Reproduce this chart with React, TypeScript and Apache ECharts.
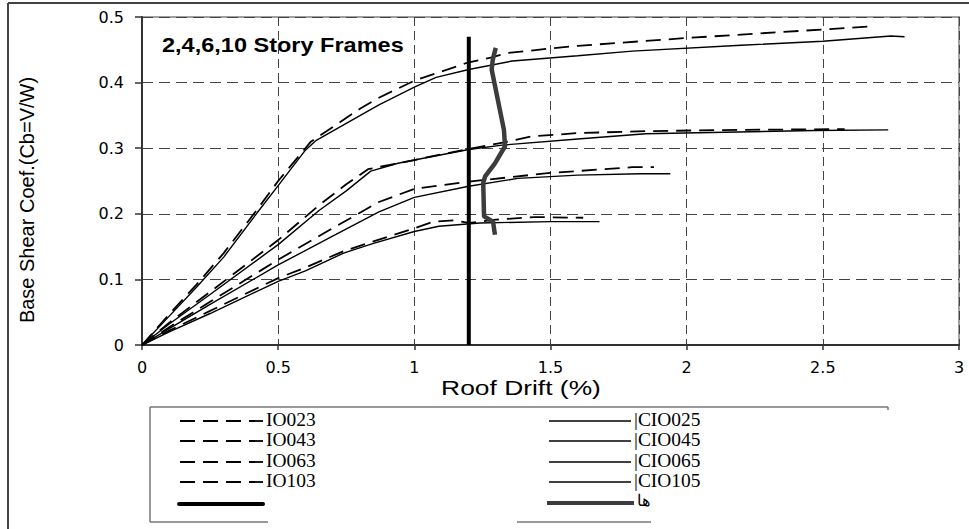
import React, { useEffect, useRef } from "react";
import * as echarts from "echarts";

const xTicks = [0, 0.5, 1, 1.5, 2, 2.5, 3];
const yTicks = [0, 0.1, 0.2, 0.3, 0.4, 0.5];

const io023 = [[0,0],[0.1,0.047],[0.2,0.092],[0.3,0.14],[0.42,0.205],[0.5,0.25],[0.62,0.31],[0.8,0.36],[0.87,0.377],[1.0,0.403],[1.2,0.431],[1.28,0.438],[1.34,0.445],[1.5,0.452],[1.6,0.456],[2.0,0.468],[2.5,0.481],[2.69,0.486]];
const io043 = [[0,0],[0.1,0.034],[0.25,0.081],[0.5,0.16],[0.65,0.213],[0.75,0.245],[0.83,0.268],[1.0,0.282],[1.2,0.299],[1.33,0.309],[1.43,0.318],[1.6,0.323],[1.85,0.326],[2.2,0.328],[2.58,0.329]];
const io063 = [[0,0],[0.1,0.027],[0.25,0.066],[0.5,0.13],[0.7,0.178],[0.87,0.218],[1.0,0.238],[1.2,0.249],[1.49,0.262],[1.8,0.271],[1.88,0.271]];
const io103 = [[0,0],[0.1,0.022],[0.25,0.052],[0.5,0.102],[0.6,0.118],[0.74,0.143],[0.85,0.158],[1.0,0.178],[1.07,0.188],[1.15,0.19],[1.2,0.186],[1.3,0.191],[1.44,0.195],[1.62,0.194]];

const cio025 = [[0,0],[0.1,0.044],[0.2,0.088],[0.3,0.134],[0.42,0.2],[0.5,0.243],[0.6,0.297],[0.64,0.312],[0.75,0.338],[0.87,0.366],[1.0,0.393],[1.08,0.408],[1.2,0.42],[1.36,0.433],[1.6,0.441],[1.8,0.448],[2.2,0.457],[2.5,0.463],[2.75,0.471],[2.8,0.47]];
const cio045 = [[0,0],[0.1,0.032],[0.25,0.077],[0.5,0.153],[0.65,0.205],[0.75,0.235],[0.84,0.265],[0.94,0.277],[1.0,0.282],[1.2,0.298],[1.33,0.305],[1.6,0.314],[1.85,0.322],[2.47,0.327],[2.74,0.328]];
const cio065 = [[0,0],[0.1,0.025],[0.25,0.062],[0.5,0.122],[0.7,0.166],[0.87,0.203],[1.0,0.225],[1.2,0.242],[1.38,0.254],[1.6,0.259],[1.83,0.261],[1.94,0.261]];
const cio105 = [[0,0],[0.1,0.02],[0.25,0.048],[0.5,0.097],[0.6,0.113],[0.74,0.14],[0.85,0.155],[1.0,0.173],[1.09,0.181],[1.24,0.186],[1.5,0.188],[1.68,0.188]];

const limitLine = [[1.2,0],[1.2,0.47]];
const greyLine = [[1.299,0.453],[1.288,0.435],[1.284,0.42],[1.329,0.328],[1.333,0.303],[1.296,0.277],[1.26,0.257],[1.253,0.247],[1.256,0.196],[1.289,0.188],[1.296,0.168]];

const dashedNames = ["IO023", "IO043", "IO063", "IO103"];
const solidNames = ["|CIO025", "|CIO045", "|CIO065", "|CIO105"];
const greyName = "ها";
const titleText = "2,4,6,10 Story Frames";
const xAxisTitle = "Roof Drift (%)";
const yAxisTitle = "Base Shear Coef.(Cb=V/W)";

const SANS = '"Liberation Sans", Arial, sans-serif';
const SERIF = '"Liberation Serif", "Times New Roman", serif';
const DASH = [15, 8];

export default function App() {
  const ref = useRef<HTMLDivElement>(null);
  useEffect(() => {
    if (!ref.current) return;
    const chart = echarts.init(ref.current, null, { renderer: "svg" });
    const dashedData = [io023, io043, io063, io103];
    const solidData = [cio025, cio045, cio065, cio105];
    const series: any[] = [];
    dashedData.forEach((d, i) => {
      series.push({
        name: dashedNames[i], type: "line", data: d, showSymbol: false, symbol: "none",
        lineStyle: { color: "#000", width: 1.8, type: DASH }, z: 3,
      });
    });
    solidData.forEach((d, i) => {
      series.push({
        name: solidNames[i], type: "line", data: d, showSymbol: false, symbol: "none",
        lineStyle: { color: "#000", width: 1.4, type: "solid" }, z: 3,
      });
    });
    series.push({
      name: " ", type: "line", data: limitLine, showSymbol: false, symbol: "none",
      lineStyle: { color: "#000", width: 4 }, z: 4,
    });
    series.push({
      name: greyName, type: "line", data: greyLine, showSymbol: false, symbol: "none",
      lineStyle: { color: "#3c3c3c", width: 4.5 }, z: 5,
    });

    const rows = [421, 441, 462, 482];
    const graphic: any[] = [
      { type: "line", shape: { x1: 8, y1: 3, x2: 969, y2: 3 }, style: { stroke: "#444", lineWidth: 2 } },
      { type: "line", shape: { x1: 8, y1: 3, x2: 8, y2: 529 }, style: { stroke: "#444", lineWidth: 2 } },
      { type: "text", x: 162, y: 45, scaleX: 1.12, style: { text: titleText, font: `bold 21px ${SANS}`, fill: "#000", verticalAlign: "middle", align: "left" } },
      { type: "text", x: 521, y: 388, scaleX: 1.32, style: { text: xAxisTitle, font: `20px ${SANS}`, fill: "#000", verticalAlign: "middle", align: "center" } },
      { type: "text", x: 27, y: 200, rotation: Math.PI / 2, style: { text: yAxisTitle, font: `20px ${SANS}`, fill: "#000", verticalAlign: "middle", align: "center" } },
      // legend frame
      { type: "line", shape: { x1: 150, y1: 407, x2: 888, y2: 407 }, style: { stroke: "#777", lineWidth: 1.5 } },
      { type: "line", shape: { x1: 888, y1: 407, x2: 888, y2: 410 }, style: { stroke: "#777", lineWidth: 1.5 } },
      { type: "line", shape: { x1: 150, y1: 407, x2: 150, y2: 522 }, style: { stroke: "#777", lineWidth: 1.5 } },
      { type: "line", shape: { x1: 150, y1: 522, x2: 268, y2: 522 }, style: { stroke: "#777", lineWidth: 1.5 } },
      { type: "line", shape: { x1: 517, y1: 522, x2: 651, y2: 522 }, style: { stroke: "#777", lineWidth: 1.5 } },
    ];
    rows.forEach((y, i) => {
      graphic.push({ type: "line", shape: { x1: 180, y1: y, x2: 263, y2: y }, style: { stroke: "#000", lineWidth: 1.8, lineDash: DASH } });
      graphic.push({ type: "text", x: 266, y: y - 1, scaleX: 1.08, style: { text: dashedNames[i], font: `18px ${SERIF}`, fill: "#000", verticalAlign: "middle", align: "left" } });
      graphic.push({ type: "line", shape: { x1: 549, y1: y, x2: 631, y2: y }, style: { stroke: "#000", lineWidth: 1.4 } });
      graphic.push({ type: "text", x: 634, y: y - 1, scaleX: 1.08, style: { text: solidNames[i], font: `18px ${SERIF}`, fill: "#000", verticalAlign: "middle", align: "left" } });
    });
    graphic.push({ type: "line", shape: { x1: 179, y1: 504, x2: 263, y2: 504 }, style: { stroke: "#000", lineWidth: 4, lineCap: "round" } });
    graphic.push({ type: "line", shape: { x1: 547, y1: 503, x2: 634, y2: 503 }, style: { stroke: "#3c3c3c", lineWidth: 4 } });
    graphic.push({ type: "text", x: 637, y: 500, style: { text: greyName, font: `16px ${SERIF}`, fill: "#000", verticalAlign: "middle", align: "left" } });

    chart.setOption({
      animation: false,
      backgroundColor: "#fff",
      grid: { left: 142, right: 10, top: 17, bottom: 184, show: true, borderColor: "#a0a0a0", borderWidth: 2, backgroundColor: "transparent" },
      xAxis: {
        type: "value", min: xTicks[0], max: xTicks[xTicks.length - 1], interval: 0.5,
        axisLine: { show: true, onZero: false, lineStyle: { color: "#333", width: 2 } },
        axisTick: { show: true, length: 5, lineStyle: { color: "#333", width: 1.5 } },
        axisLabel: { color: "#000", fontFamily: '"DejaVu Sans", sans-serif', fontSize: 16, margin: 14 },
        splitLine: { show: true, lineStyle: { color: "#444", width: 1, type: [9, 5] } },
      },
      yAxis: {
        type: "value", min: yTicks[0], max: yTicks[yTicks.length - 1], interval: 0.1,
        axisLine: { show: true, onZero: false, lineStyle: { color: "#333", width: 2 } },
        axisTick: { show: true, length: 7, lineStyle: { color: "#333", width: 1.5 } },
        axisLabel: { color: "#000", fontFamily: '"DejaVu Sans", sans-serif', fontSize: 16, margin: 18 },
        splitLine: { show: true, lineStyle: { color: "#444", width: 1, type: [11, 6] } },
      },
      legend: { show: false },
      series,
      graphic,
    });
    return () => chart.dispose();
  }, []);
  return <div ref={ref} style={{ position: "absolute", left: 0, top: 0, width: 969, height: 529, background: "#fff" }} />;
}
